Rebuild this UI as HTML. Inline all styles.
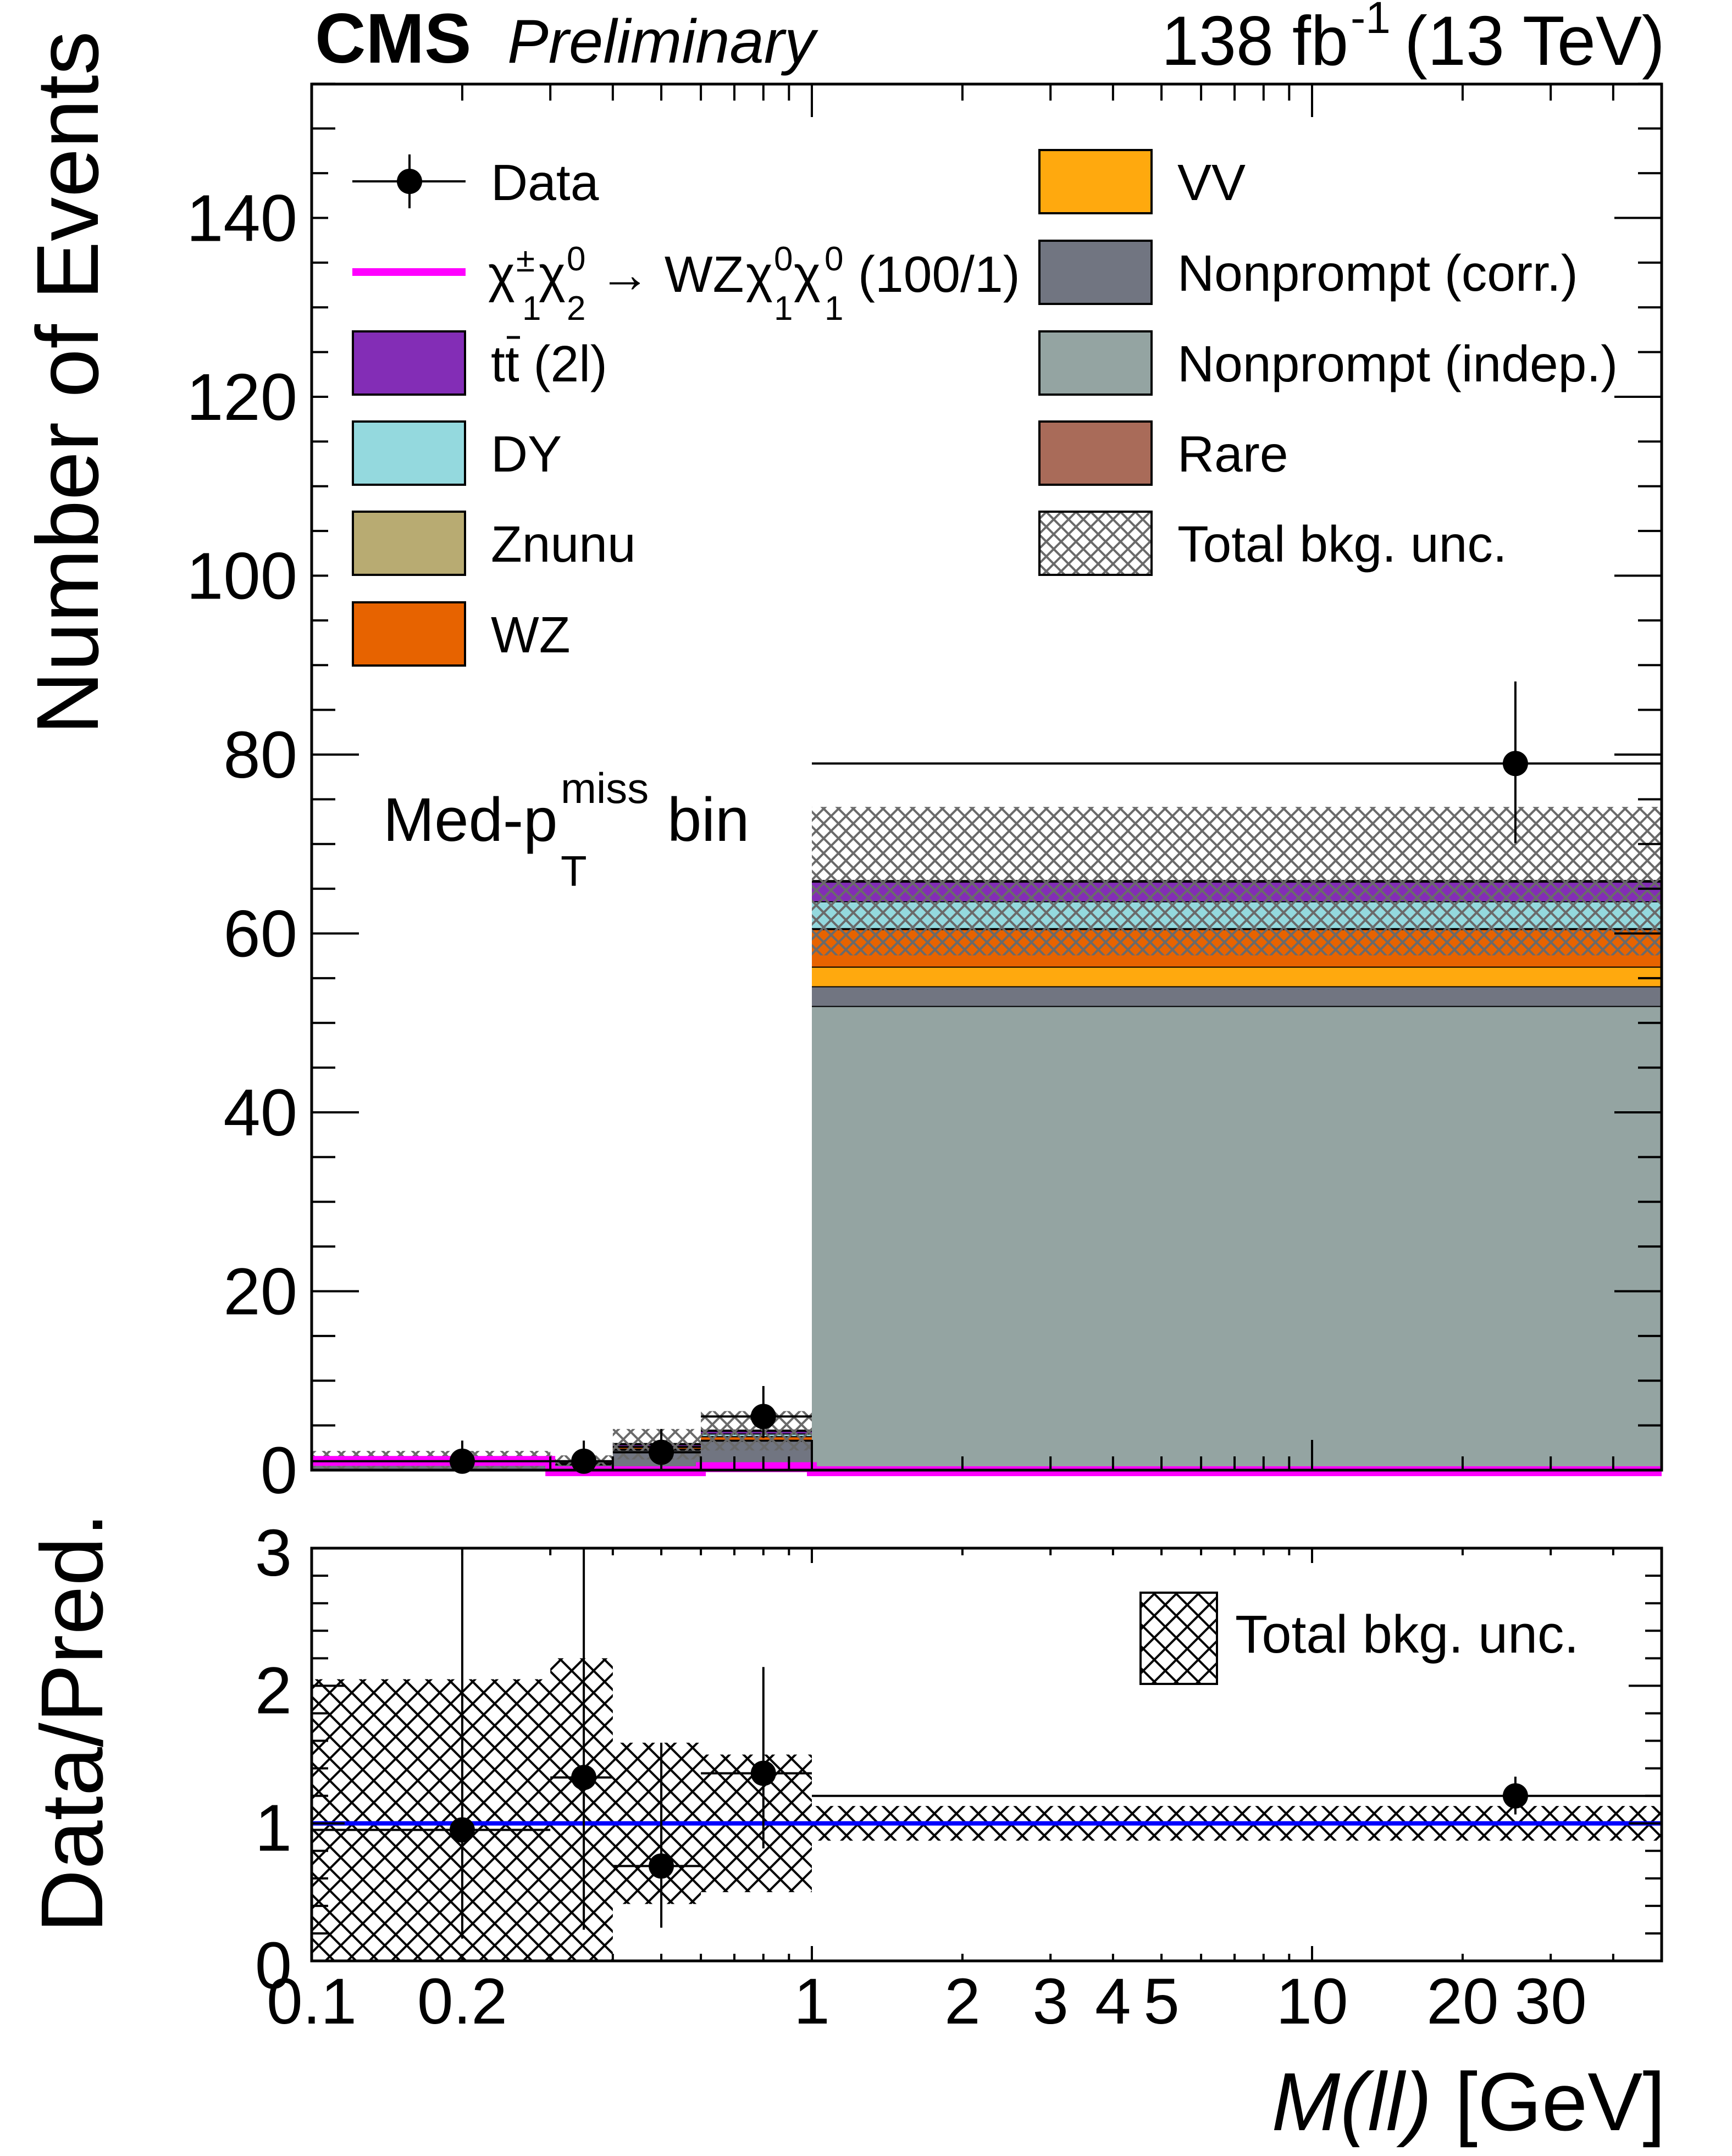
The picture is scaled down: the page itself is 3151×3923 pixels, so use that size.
<!DOCTYPE html>
<html><head><meta charset="utf-8"><style>
html,body{margin:0;padding:0;background:#fff;}
svg{display:block;font-family:"Liberation Sans",Arial,sans-serif;}
</style></head><body>
<svg id="chart" xmlns="http://www.w3.org/2000/svg" width="3151" height="3923" viewBox="0 0 3151 3923">
<defs>
<pattern id="hatchGray" patternUnits="userSpaceOnUse" width="27" height="27">
<path d="M0,0 L27,27 M27,0 L0,27" stroke="#6a6a6a" stroke-width="4" fill="none"/>
</pattern>
<pattern id="hatchBlack" patternUnits="userSpaceOnUse" width="40" height="40">
<path d="M0,0 L40,40 M40,0 L0,40" stroke="#000" stroke-width="4" fill="none"/>
</pattern>
<clipPath id="mainClip"><rect x="567" y="153" width="2456" height="2540"/></clipPath>
<clipPath id="ratioClip"><rect x="567" y="2817" width="2456" height="751"/></clipPath>
</defs>
<g id="main-layer" clip-path="url(#mainClip)"></g>
<g id="ratio-layer" clip-path="url(#ratioClip)"></g>
<g id="axes-layer"></g>

<g>
<rect x="597" y="280" width="2338" height="960" fill="#fff"/>
<g>
<line x1="641" y1="330" x2="847" y2="330" stroke="#000" stroke-width="4"/>
<line x1="745" y1="281" x2="745" y2="379" stroke="#000" stroke-width="4"/>
<circle cx="745" cy="330" r="23" fill="#000"/>
<text x="893" y="364" font-size="93">Data</text>
</g>
<g font-size="93">
<line x1="641" y1="495" x2="847" y2="495" stroke="#ff00ff" stroke-width="14"/>
<text x="888" y="531">χ</text><text x="939" y="494" font-size="62">±</text><text x="950" y="582" font-size="62">1</text>
<text x="980" y="531">χ</text><text x="1031" y="492" font-size="62">0</text><text x="1031" y="582" font-size="62">2</text>
<text x="1090" y="531">→ WZ</text>
<text x="1357" y="531">χ</text><text x="1408" y="492" font-size="62">0</text><text x="1408" y="582" font-size="62">1</text>
<text x="1444" y="531">χ</text><text x="1500" y="492" font-size="62">0</text><text x="1500" y="582" font-size="62">1</text>
<text x="1561" y="531">(100/1)</text>
</g>
<g>
<rect x="642" y="603" width="204" height="115" fill="#832db6" stroke="#000" stroke-width="4"/>
<text x="893" y="694" font-size="93">tt (2l)</text>
<line x1="922" y1="614" x2="946" y2="614" stroke="#000" stroke-width="5"/>
</g>
<g>
<rect x="642" y="767" width="204" height="115" fill="#94d9de" stroke="#000" stroke-width="4"/>
<text x="893" y="858" font-size="93">DY</text>
</g>
<g>
<rect x="642" y="931" width="204" height="115" fill="#b8ab72" stroke="#000" stroke-width="4"/>
<text x="893" y="1022" font-size="93">Znunu</text>
</g>
<g>
<rect x="642" y="1096" width="204" height="115" fill="#e76300" stroke="#000" stroke-width="4"/>
<text x="893" y="1187" font-size="93">WZ</text>
</g>
<g>
<rect x="1891" y="273" width="204" height="115" fill="#ffa90e" stroke="#000" stroke-width="4"/>
<text x="2142" y="364" font-size="93">VV</text>
</g>
<g>
<rect x="1891" y="438" width="204" height="115" fill="#717581" stroke="#000" stroke-width="4"/>
<text x="2142" y="529" font-size="93">Nonprompt (corr.)</text>
</g>
<g>
<rect x="1891" y="603" width="204" height="115" fill="#94a4a2" stroke="#000" stroke-width="4"/>
<text x="2142" y="694" font-size="93">Nonprompt (indep.)</text>
</g>
<g>
<rect x="1891" y="767" width="204" height="115" fill="#a96b59" stroke="#000" stroke-width="4"/>
<text x="2142" y="858" font-size="93">Rare</text>
</g>
<g>
<rect x="1891" y="931" width="204" height="115" fill="url(#hatchGray)" stroke="#000" stroke-width="4"/>
<text x="2142" y="1022" font-size="93">Total bkg. unc.</text>
</g>
</g>

<g>
<rect x="2075" y="2898" width="139" height="166" fill="url(#hatchBlack)" stroke="#000" stroke-width="4"/>
<text x="2247" y="3007" font-size="97">Total bkg. unc.</text>
</g>

<g font-size="112">
<text x="697" y="1530">Med-p</text>
<text x="1020" y="1461" font-size="78">miss</text>
<text x="1020" y="1612" font-size="78">T</text>
<text x="1214" y="1530">bin</text>
</g>

<text x="573" y="114" font-size="128" font-weight="bold">CMS</text>
<text x="923" y="114" font-size="112" font-style="italic">Preliminary</text>
<g font-size="127">
<text x="2113" y="118" textLength="340" lengthAdjust="spacingAndGlyphs">138 fb</text>
<text x="2457" y="60" font-size="82">-1</text>
<text x="2555" y="118" textLength="474" lengthAdjust="spacingAndGlyphs">(13 TeV)</text>
</g>
<text transform="translate(178,1337) rotate(-90)" font-size="160">Number of Events</text>
<text transform="translate(186,3517) rotate(-90)" font-size="160">Data/Pred.</text>
<g font-size="150">
<text x="3030" y="3876" text-anchor="end"><tspan font-style="italic">M(ll)</tspan> [GeV]</text>
</g>

<script>
// ---- data ----
const binEdges = [0.1, 0.3, 0.4, 0.6, 1, 50];
const dataX = [0.2, 0.35, 0.5, 0.8, 25.5];
const dataY = [1, 1, 2, 6, 79];
const dataErrUp = [2.3, 2.3, 2.6, 3.4, 9.2];
const dataErrDn = [0.83, 0.83, 1.3, 2.4, 8.9];
const nonpromptIndep = [0.1, 0.05, 0.1, 0.2, 51.9];
const nonpromptCorr = [0.8, 0.6, 2.2, 3.1, 2.2];
const vv = [0.02, 0.02, 0.1, 0.1, 2.2];
const wz = [0.05, 0.05, 0.2, 0.4, 4.2];
const znunu = [0, 0, 0, 0, 0.1];
const dy = [0.05, 0.02, 0.1, 0.3, 3.0];
const ttbar = [0.03, 0.01, 0.2, 0.3, 2.2];
const rare = [0, 0, 0, 0, 0.05];
const bkgUnc = [1.1, 0.9, 1.7, 2.2, 8.3];
const signal = [1.15, 0, 0, 0.45, 0];
const yTicksMain = [0, 20, 40, 60, 80, 100, 120, 140];
const yTicksRatio = [0, 1, 2, 3];
const xTickLabels = ["0.1", "0.2", "1", "2", "3", "4", "5", "10", "20", "30"];

// ---- scales ----
const X0 = 567, X1 = 3023, DEC = 910;
function xs(v){ return X0 + (Math.log10(v) + 1) * DEC; }
const YB = 2675, YPU = 16.275;
function ys(v){ return YB - v * YPU; }
const RB = 3568, RPU = 250.3;
function yr(v){ return RB - v * RPU; }

const NS = "http://www.w3.org/2000/svg";
function mk(tag, attrs, parent){
  const e = document.createElementNS(NS, tag);
  for (const k in attrs) e.setAttribute(k, attrs[k]);
  parent.appendChild(e);
  return e;
}
const mainL = document.getElementById('main-layer');
const ratioL = document.getElementById('ratio-layer');
const axesL = document.getElementById('axes-layer');

const comps = [
  {name:'nonprompt-indep', vals:nonpromptIndep, col:'#94a4a2'},
  {name:'nonprompt-corr', vals:nonpromptCorr, col:'#717581'},
  {name:'vv', vals:vv, col:'#ffa90e'},
  {name:'wz', vals:wz, col:'#e76300'},
  {name:'znunu', vals:znunu, col:'#b8ab72'},
  {name:'dy', vals:dy, col:'#94d9de'},
  {name:'ttbar', vals:ttbar, col:'#832db6'},
  {name:'rare', vals:rare, col:'#a96b59'}
];
const nb = binEdges.length - 1;
const totals = [];
for (let i = 0; i < nb; i++){
  const xa = xs(binEdges[i]), xb = xs(binEdges[i+1]);
  let cum = 0;
  comps.forEach(c => {
    const v = c.vals[i];
    const r = mk('rect', {x:xa, y:ys(cum+v), width:xb-xa, height:Math.max(0, ys(cum)-ys(cum+v)), fill:c.col}, mainL);
    
    
    cum += v;
    const l = mk('line', {x1:xa, x2:xb, y1:ys(cum), y2:ys(cum), stroke:'#000', 'stroke-width':4}, mainL);
    
    
  });
  totals.push(cum);
  const u = mk('rect', {x:xa, y:ys(cum+bkgUnc[i]), width:xb-xa, height:ys(cum-bkgUnc[i])-ys(cum+bkgUnc[i]), fill:'url(#hatchGray)'}, mainL);
  
  
}
let sp = '';
for (let i = 0; i < nb; i++){
  const y = ys(signal[i]) + 2;
  sp += (i === 0 ? 'M' : 'L') + xs(binEdges[i]) + ',' + y + ' L' + xs(binEdges[i+1]) + ',' + y + ' ';
}
const sig = mk('path', {d:sp, stroke:'#ff00ff', 'stroke-width':18, fill:'none'}, mainL);


for (let i = 0; i < nb; i++){
  const g = mk('g', {}, mainL);
  
  
  const cx = xs(dataX[i]), cy = ys(dataY[i]);
  mk('line', {x1:xs(binEdges[i]), x2:xs(binEdges[i+1]), y1:cy, y2:cy, stroke:'#000', 'stroke-width':4}, g);
  mk('line', {x1:cx, x2:cx, y1:ys(dataY[i]+dataErrUp[i]), y2:ys(dataY[i]-dataErrDn[i]), stroke:'#000', 'stroke-width':4}, g);
  mk('circle', {cx:cx, cy:cy, r:23, fill:'#000'}, g);
}
for (let i = 0; i < nb; i++){
  const xa = xs(binEdges[i]), xb = xs(binEdges[i+1]);
  const ru = bkgUnc[i] / totals[i];
  const b = mk('rect', {x:xa, y:yr(1+ru), width:xb-xa, height:yr(1-ru)-yr(1+ru), fill:'url(#hatchBlack)'}, ratioL);
  
  
}
const one = mk('line', {x1:X0, x2:X1, y1:yr(1), y2:yr(1), stroke:'#0000ff', 'stroke-width':8}, ratioL);


for (let i = 0; i < nb; i++){
  const g = mk('g', {}, ratioL);
  
  
  const r = dataY[i] / totals[i];
  const cx = xs(dataX[i]), cy = yr(r);
  mk('line', {x1:xs(binEdges[i]), x2:xs(binEdges[i+1]), y1:cy, y2:cy, stroke:'#000', 'stroke-width':4}, g);
  mk('line', {x1:cx, x2:cx, y1:yr(r + dataErrUp[i]/totals[i]), y2:yr(Math.max(0, r - dataErrDn[i]/totals[i])), stroke:'#000', 'stroke-width':4}, g);
  mk('circle', {cx:cx, cy:cy, r:23, fill:'#000'}, g);
}

function frame(y0, y1, name){
  const f = mk('rect', {x:X0, y:y0, width:X1-X0, height:y1-y0, fill:'none', stroke:'#000', 'stroke-width':5}, axesL);
  
  
}
frame(153, 2675, 'main-frame');
frame(2817, 3568, 'ratio-frame');
const xMinor = [];
for (const d of [0.1, 1, 10]) for (let k = 1; k <= 9; k++){ const v = d*k; if (v > 0.1 && v < 50) xMinor.push(v); }
xMinor.forEach(v => {
  const major = (v === 1 || v === 10);
  const x = xs(v);
  const lm = major ? 60 : 30, lr = major ? 27 : 13;
  mk('line', {x1:x, x2:x, y1:153, y2:153+lm, stroke:'#000', 'stroke-width':4}, axesL);
  mk('line', {x1:x, x2:x, y1:2675, y2:2675-(major?55:25), stroke:'#000', 'stroke-width':4}, axesL);
  mk('line', {x1:x, x2:x, y1:2817, y2:2817+lr, stroke:'#000', 'stroke-width':4}, axesL);
  mk('line', {x1:x, x2:x, y1:3568, y2:3568-lr, stroke:'#000', 'stroke-width':4}, axesL);
});
xTickLabels.forEach(s => {
  const t = mk('text', {x:xs(parseFloat(s)), y:3682, 'font-size':118, 'text-anchor':'middle'}, axesL);
  t.textContent = s;
  
  
});
for (let v = 0; v <= 155; v += 5){
  const major = v % 20 === 0;
  const len = major ? 86 : 43;
  mk('line', {x1:X0, x2:X0+len, y1:ys(v), y2:ys(v), stroke:'#000', 'stroke-width':4}, axesL);
  mk('line', {x1:X1, x2:X1-len, y1:ys(v), y2:ys(v), stroke:'#000', 'stroke-width':4}, axesL);
}
yTicksMain.forEach(v => {
  const t = mk('text', {x:541, y:ys(v)+42, 'font-size':121, 'text-anchor':'end'}, axesL);
  t.textContent = v;
  
  
});
for (let k = 0; k <= 15; k++){
  const v = k * 0.2;
  const major = k % 5 === 0;
  const len = major ? 60 : 30;
  mk('line', {x1:X0, x2:X0+len, y1:yr(v), y2:yr(v), stroke:'#000', 'stroke-width':4}, axesL);
  mk('line', {x1:X1, x2:X1-len, y1:yr(v), y2:yr(v), stroke:'#000', 'stroke-width':4}, axesL);
}
yTicksRatio.forEach(v => {
  const t = mk('text', {x:531, y:yr(v)+50, 'font-size':121, 'text-anchor':'end'}, axesL);
  t.textContent = v;
  
  
});
</script>
</svg>
</body></html>
